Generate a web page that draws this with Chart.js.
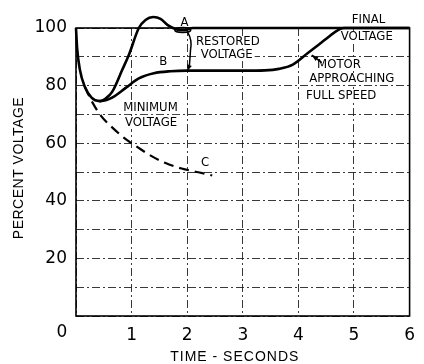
<!DOCTYPE html>
<html>
<head>
<meta charset="utf-8">
<script src="https://cdn.jsdelivr.net/npm/chart.js@4.4.1/dist/chart.umd.min.js"></script>
<style>
  html, body { margin: 0; padding: 0; background: #fff; }
  canvas { display: block; }
</style>
</head>
<body>
<canvas id="chart" width="424" height="364"></canvas>
<script>
// curve A - voltage restored by regulator
const timeA = [0, 0.02, 0.07, 0.16, 0.28, 0.42, 0.55, 0.65, 0.83, 0.95, 1.13, 1.25, 1.39, 1.52, 1.65, 1.8, 1.95, 2.1, 6];
const voltA = [100, 93, 85.5, 79.5, 75.8, 74.6, 75.8, 77.8, 85.4, 90.6, 100, 102.8, 103.8, 103.2, 101, 99.6, 99.2, 100, 100];

// curve B - slower recovery, then motor reaches speed
const timeB = [0.42, 0.55, 0.65, 0.9, 1.13, 1.4, 1.7, 2.0, 2.5, 3.0, 3.4, 3.65, 3.9, 4.17, 4.47, 4.65, 4.82, 6];
const voltB = [74.6, 75, 75.8, 79.3, 82.5, 84.3, 85, 85.2, 85.2, 85.2, 85.3, 85.8, 87.3, 91.3, 95.8, 98.5, 100, 100];

// curve C - no regulation (dashed)
const timeC = [0.16, 0.3, 0.45, 0.65, 0.9, 1.1, 1.36, 1.6, 1.9, 2.2, 2.45];
const voltC = [79.5, 74, 69.5, 65.5, 61.3, 58.7, 55.5, 53.2, 51.2, 49.9, 48.8];

const yLabeled = [20, 40, 60, 80, 100];

// annotation text, placed in data units
const notes = [
  { text: 'A', x: 1.95, y: 101.7 },
  { text: 'RESTORED', x: 2.73, y: 95.1 },
  { text: 'VOLTAGE', x: 2.71, y: 90.6 },
  { text: 'B', x: 1.57, y: 88.2 },
  { text: 'MINIMUM', x: 1.34, y: 72.2 },
  { text: 'VOLTAGE', x: 1.35, y: 67.0 },
  { text: 'C', x: 2.32, y: 53.1 },
  { text: 'FINAL', x: 5.26, y: 102.8 },
  { text: 'VOLTAGE', x: 5.23, y: 96.9 },
  { text: 'MOTOR', x: 4.73, y: 87.2 },
  { text: 'APPROACHING', x: 4.96, y: 82.3 },
  { text: 'FULL SPEED', x: 4.77, y: 76.4 }
];

const toPoints = (xs, ys) => xs.map((x, i) => ({ x: x, y: ys[i] }));
const noteFont = "13px 'DejaVu Sans Condensed', 'Liberation Sans Narrow', sans-serif";

function arrowHead(ctx, fx, fy, tx, ty, size) {
  const ang = Math.atan2(ty - fy, tx - fx);
  ctx.beginPath();
  ctx.moveTo(tx, ty);
  ctx.lineTo(tx - size * Math.cos(ang - 0.35), ty - size * Math.sin(ang - 0.35));
  ctx.lineTo(tx - size * Math.cos(ang + 0.35), ty - size * Math.sin(ang + 0.35));
  ctx.closePath();
  ctx.fill();
}

const markup = {
  id: 'markup',
  beforeDatasetsDraw(chart) {
    const { ctx, scales: { x, y }, chartArea: a } = chart;
    ctx.save();
    ctx.font = noteFont;
    ctx.textAlign = 'center';
    ctx.textBaseline = 'middle';
    notes.forEach(n => {
      const px = x.getPixelForValue(n.x);
      const py = y.getPixelForValue(n.y);
      const w = ctx.measureText(n.text).width;
      ctx.fillStyle = '#fff';
      ctx.fillRect(px - w / 2 - 2, py - 6, w + 4, 12);
      ctx.fillStyle = '#000';
      ctx.fillText(n.text, px, py);
    });
    ctx.strokeStyle = '#000';
    ctx.lineWidth = 1.6;
    ctx.strokeRect(a.left, a.top, a.right - a.left, a.bottom - a.top);
    ctx.restore();
  },
  afterDatasetsDraw(chart) {
    const { ctx, scales: { x, y } } = chart;
    const P = (vx, vy) => [x.getPixelForValue(vx), y.getPixelForValue(vy)];
    ctx.save();
    ctx.strokeStyle = '#000';
    ctx.fillStyle = '#000';
    ctx.lineWidth = 1.5;

    // small loop at A
    const [lx, ly] = P(1.92, 99.3);
    ctx.beginPath();
    ctx.ellipse(lx, ly, 8, 2.5, 0, 0, Math.PI * 2);
    ctx.stroke();

    // restored voltage arrow, A down to B
    const r = [P(2.007, 98.6), P(2.095, 95.8), P(2.06, 92.4), P(2.04, 87.0), P(2.0, 85.0)];
    ctx.beginPath();
    ctx.moveTo(r[0][0], r[0][1]);
    ctx.quadraticCurveTo(r[1][0], r[1][1], r[2][0], r[2][1]);
    ctx.lineTo(r[3][0], r[3][1]);
    ctx.stroke();
    arrowHead(ctx, r[3][0], r[3][1], r[4][0], r[4][1], 7);

    // motor approaching full speed arrow
    const [mx0, my0] = P(4.42, 88.0);
    const [mx1, my1] = P(4.24, 90.6);
    ctx.beginPath();
    ctx.moveTo(mx0, my0);
    ctx.lineTo(mx1, my1);
    ctx.stroke();
    arrowHead(ctx, mx0, my0, mx1, my1, 7);
    ctx.restore();
  },
  afterDraw(chart) {
    const { ctx, chartArea: a } = chart;
    ctx.save();
    ctx.fillStyle = '#000';
    ctx.textAlign = 'center';
    ctx.textBaseline = 'middle';
    // shared origin label
    ctx.font = "17px 'DejaVu Sans', sans-serif";
    ctx.fillText('0', a.left - 14, a.bottom + 17);
    // axis titles
    ctx.font = "14px 'Liberation Sans', sans-serif";
    ctx.letterSpacing = '1px';
    ctx.fillText('TIME - SECONDS', (a.left + a.right) / 2 - 8, 357);
    ctx.translate(19, 168);
    ctx.rotate(-Math.PI / 2);
    ctx.letterSpacing = '0.5px';
    ctx.fillText('PERCENT VOLTAGE', 0, 0);
    ctx.restore();
  }
};

const gridStyle = { color: '#222', lineWidth: 0.9, drawTicks: false };
const tickFont = { family: "'DejaVu Sans', sans-serif", size: 17 };

new Chart(document.getElementById('chart'), {
  type: 'scatter',
  data: {
    datasets: [
      { label: 'A', data: toPoints(timeA, voltA), showLine: true, cubicInterpolationMode: 'monotone',
        borderColor: '#000', borderWidth: 2.6, pointRadius: 0, clip: false },
      { label: 'B', data: toPoints(timeB, voltB), showLine: true, cubicInterpolationMode: 'monotone',
        borderColor: '#000', borderWidth: 2.6, pointRadius: 0, clip: false },
      { label: 'C', data: toPoints(timeC, voltC), showLine: true, cubicInterpolationMode: 'monotone',
        borderColor: '#000', borderWidth: 2.2, borderDash: [10, 6], pointRadius: 0, clip: false }
    ]
  },
  options: {
    responsive: false,
    animation: false,
    layout: { padding: { top: 28, right: 7, left: 0, bottom: 0 } },
    plugins: { legend: { display: false }, tooltip: { enabled: false } },
    scales: {
      x: {
        type: 'linear', min: 0, max: 6,
        afterFit: s => { s.height = 48; },
        grid: gridStyle,
        border: { display: false, dash: [8, 3, 2, 3] },
        ticks: { stepSize: 1, padding: 9, color: '#000', font: tickFont,
          callback: v => (v === 0 ? '' : v) }
      },
      y: {
        min: 0, max: 100,
        afterFit: s => { s.width = 76; },
        grid: gridStyle,
        border: { display: false, dash: [8, 3, 2, 3] },
        ticks: { stepSize: 10, padding: 9, color: '#000', font: tickFont,
          callback: v => (yLabeled.includes(v) ? v : '') }
      }
    }
  },
  plugins: [markup]
});
</script>
</body>
</html>
